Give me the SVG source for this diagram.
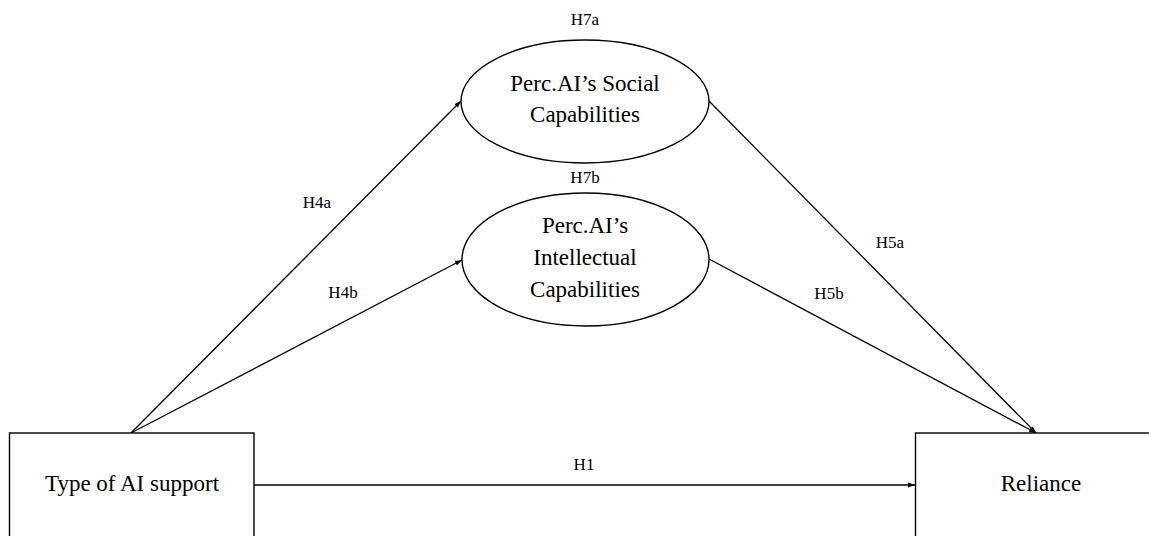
<svg xmlns="http://www.w3.org/2000/svg" width="1149" height="536" viewBox="0 0 1149 536">
<style>
.shape{fill:#fff;stroke:#000;stroke-width:1.4}
.conn{fill:none;stroke:#000;stroke-width:1.3}
.big{font-family:"Liberation Serif","Times New Roman",serif;font-size:23px;fill:#000;text-anchor:middle}
.lbl{font-family:"Liberation Serif","Times New Roman",serif;font-size:17px;fill:#000;text-anchor:middle}
</style>
<defs>
<marker id="arr" markerWidth="8" markerHeight="8" refX="7" refY="4" orient="auto" markerUnits="userSpaceOnUse">
<path d="M0,1.5 L7,4 L0,6.5 Z" fill="#000"/>
</marker>
</defs>
<rect width="1149" height="536" fill="#fff"/>
<g id="connectors">
<line class="conn" x1="131" y1="433" x2="461" y2="101" marker-end="url(#arr)"/>
<line class="conn" x1="131" y1="433" x2="462" y2="260" marker-end="url(#arr)"/>
<line class="conn" x1="709" y1="101" x2="1036" y2="433" marker-end="url(#arr)"/>
<line class="conn" x1="709" y1="259" x2="1036" y2="433" marker-end="url(#arr)"/>
<line class="conn" x1="254" y1="485" x2="915" y2="485" marker-end="url(#arr)"/>
</g>
<g id="labels">
<text class="lbl" x="585" y="25">H7a</text>
<text class="lbl" x="585" y="183">H7b</text>
<text class="lbl" x="317" y="208">H4a</text>
<text class="lbl" x="343" y="298">H4b</text>
<text class="lbl" x="890" y="248">H5a</text>
<text class="lbl" x="829" y="299">H5b</text>
<text class="lbl" x="584" y="470">H1</text>
</g>
<g id="social">
<ellipse class="shape" cx="585" cy="101.5" rx="124" ry="61.5"/>
<text class="big" x="585" y="91">Perc.AI’s Social</text>
<text class="big" x="585" y="122">Capabilities</text>
</g>
<g id="intellectual">
<ellipse class="shape" cx="585.5" cy="259.5" rx="123.5" ry="66.5"/>
<text class="big" x="585" y="233">Perc.AI’s</text>
<text class="big" x="585" y="265">Intellectual</text>
<text class="big" x="585" y="297">Capabilities</text>
</g>
<g id="type">
<rect class="shape" x="9.5" y="433" width="244.5" height="120"/>
<text class="big" x="132" y="491">Type of AI support</text>
</g>
<g id="reliance">
<rect class="shape" x="915.5" y="433" width="250" height="120"/>
<text class="big" x="1041" y="491">Reliance</text>
</g>
</svg>
